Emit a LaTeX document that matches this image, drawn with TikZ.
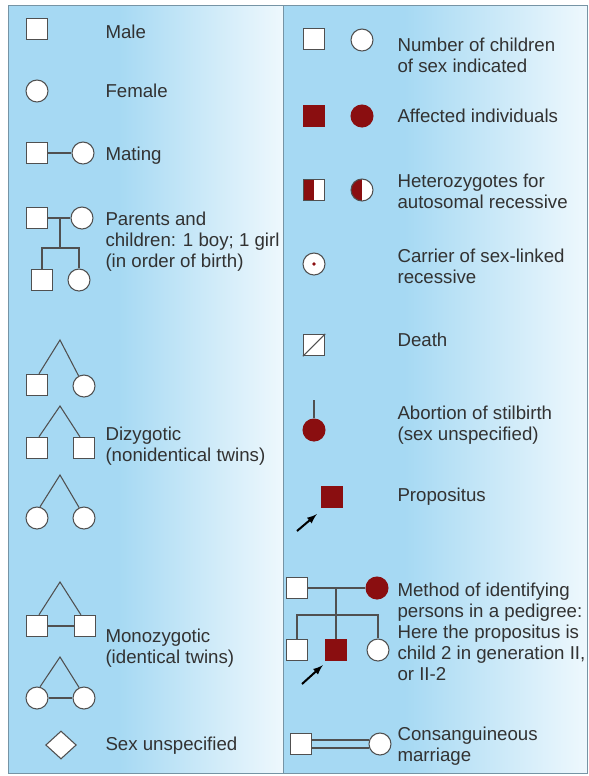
\documentclass[tikz,border=0pt]{standalone}
\usepackage{fontspec}
\setmainfont{Liberation Sans}
\usetikzlibrary{positioning}
\usetikzlibrary{shapes.geometric}
\usetikzlibrary{arrows}

\definecolor{skyb}{RGB}{166,217,243}
\definecolor{paleb}{RGB}{238,248,253}
\definecolor{edgeb}{RGB}{118,148,165}
\definecolor{linegray}{RGB}{80,80,80}
\definecolor{textgray}{RGB}{50,50,50}
\definecolor{affred}{RGB}{138,14,16}

\pgfdeclarehorizontalshading{panelfade}{100bp}{color(0bp)=(skyb); color(25bp)=(skyb); color(45bp)=(skyb); color(75bp)=(paleb); color(100bp)=(paleb)}

\begin{document}
\begin{tikzpicture}[x=0.75pt,y=-0.75pt,color=linegray,line width=0.8pt,
	male/.style={draw=linegray,fill=white,rectangle,minimum size=16pt,inner sep=0pt},
	female/.style={draw=linegray,fill=white,circle,minimum size=16.5pt,inner sep=0pt},
	unknown/.style={draw=linegray,fill=white,diamond,minimum width=23pt,minimum height=21pt,inner sep=0pt},
	aff/.style={fill=affred,draw=affred},
	het/.style={path picture={\fill[affred] (path picture bounding box.south west) rectangle (path picture bounding box.north);}},
	lbl/.style={anchor=west,align=left,inner sep=0pt,text=textgray,font=\fontsize{14}{15.75}\selectfont},
	arr/.style={->,>=latex,black,line width=1.5pt}]
	\fill[white] (0,0) rectangle (589,776);
	\useasboundingbox (0,0) rectangle (589,776);
	\shade[shading=panelfade] (8,5) rectangle (283,773);
	\shade[shading=panelfade] (283,5) rectangle (587,773);
	\draw[edgeb,line width=0.6pt] (8,5) rectangle (587,773) (283,5) -- (283,773);
	
	\node[male] (m1) at (37,29) {};
	\node[lbl] (tm1) at (105,32) {Male};
	\node[female] (f1) at (37,91) {};
	\node[lbl] (tf1) at (105,91) {Female};
	
	\node[male] (ms) at (37,153) {};
	\node[female] (mf) at (83,153) {};
	\node[lbl] (tms) at (105,156) {Mating};
	\draw (ms) -- (mf);
	
	\node[male] (ps) at (37,218) {};
	\node[female] (pf) at (82,218) {};
	\coordinate (pm) at (60,218);
	\coordinate (pd) at (60,248);
	\node[male] (pc1) at (42,280) {};
	\node[female] (pc2) at (79,280) {};
	\node[lbl] (tps) at (105,242) {Parents and\\children: 1 boy; 1 girl\\(in order of birth)};
	\draw (ps) -- (pf);
	\draw (pm) -- (pd);
	\draw (pc1.north) |- (pd) -| (pc2.north);
	
	\coordinate (dz1) at (60,340);
	\node[male] (dz1a) at (37,385) {};
	\node[female] (dz1b) at (84,386) {};
	\draw (dz1a.80) -- (dz1) -- (dz1b.118);
	\coordinate (dz2) at (60,406);
	\node[male] (dz2a) at (37,448) {};
	\node[male] (dz2b) at (84,448) {};
	\draw (dz2a.80) -- (dz2) -- (dz2b.110);
	\coordinate (dz3) at (60,475);
	\node[female] (dz3a) at (37,518) {};
	\node[female] (dz3b) at (84,518) {};
	\draw (dz3a.75) -- (dz3) -- (dz3b.115);
	\node[lbl] (tdz) at (105,446) {Dizygotic\\(nonidentical twins)};
	
	\coordinate (mz1) at (60,582);
	\node[male] (mz1a) at (37,626) {};
	\node[male] (mz1b) at (85,626) {};
	\draw (mz1a.80) -- (mz1) -- (mz1b.110);
	\draw (mz1a) -- (mz1b);
	\coordinate (mz2) at (60,657);
	\node[female] (mz2a) at (37,698) {};
	\node[female] (mz2b) at (84,698) {};
	\draw (mz2a.75) -- (mz2) -- (mz2b.115);
	\draw (mz2a) -- (mz2b);
	\node[lbl] (tmz) at (105,648) {Monozygotic\\(identical twins)};
	
	\node[unknown] (u1) at (61,745) {};
	\node[lbl] (tu1) at (105,746) {Sex unspecified};
	
	\node[male] (ns) at (314,39) {};
	\node[female] (nf) at (362,40) {};
	\node[lbl] (tns) at (397,55) {Number of children\\of sex indicated};
	
	\node[male,aff] (as) at (314,116) {};
	\node[female,aff] (af) at (362,116) {};
	\node[lbl] (tas) at (397,116) {Affected individuals};
	
	\node[male,het] (hs) at (314,190) {};
	\node[female,het] (hf) at (362,190) {};
	\node[lbl] (ths) at (397,191) {Heterozygotes for\\autosomal recessive};
	
	\node[female] (cr) at (314,264) {};
	\fill[affred] (cr) circle (1.9);
	\node[lbl] (tcr) at (397,266) {Carrier of sex-linked\\recessive};
	
	\node[male] (ds) at (314,345) {};
	\draw (ds.south west) -- (ds.north east);
	\node[lbl] (tds) at (397,340) {Death};
	
	\coordinate (abt) at (314,400);
	\node[female,aff] (ab) at (314,430) {};
	\draw (abt) -- (ab);
	\node[lbl] (tab) at (397,425) {Abortion of stilbirth\\(sex unspecified)};
	
	\node[male,aff] (pp) at (332,497) {};
	\coordinate (ppa) at (297,531);
	\draw[arr] (ppa) -- ([shift={(-3pt,-4.5pt)}]pp.south west);
	\node[lbl] (tpp) at (397,497) {Propositus};
	
	\node[male] (gf) at (297,588) {};
	\node[female,aff] (gm) at (377,588) {};
	\coordinate (gmid) at (336,588);
	\coordinate (gd) at (336,615);
	\node[male] (g1) at (297,650) {};
	\node[male,aff] (g2) at (336,650) {};
	\node[female] (g3) at (378,650) {};
	\coordinate (ga) at (302,684);
	\draw (gf) -- (gm);
	\draw (gmid) -- (g2.north);
	\draw (g1.north) |- (gd) -| (g3.north);
	\draw[arr] (ga) -- ([shift={(-1.5pt,-3pt)}]g2.south west);
	\node[lbl] (tgf) at (397,632) {Method of identifying\\persons in a pedigree:\\Here the propositus is\\child 2 in generation II,\\or II-2};
	
	\node[male] (cs) at (301,744) {};
	\node[female] (cf) at (380,744) {};
	\draw ([yshift=3pt]cs.east) -- ([yshift=3pt]cs.east -| cf.159);
	\draw ([yshift=-3pt]cs.east) -- ([yshift=-3pt]cs.east -| cf.201);
	\node[lbl] (tcs) at (397,746) {Consanguineous\\marriage};
\end{tikzpicture}
\end{document}
